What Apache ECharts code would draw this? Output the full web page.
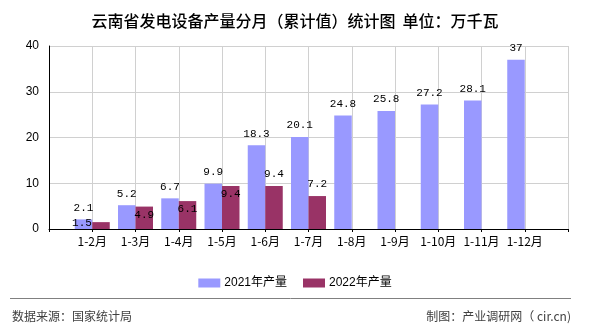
<!DOCTYPE html>
<html>
<head>
<meta charset="utf-8">
<script src="https://cdn.jsdelivr.net/npm/echarts@6/dist/echarts.min.js"></script>
<style>
  html, body { margin: 0; padding: 0; background: #fff; }
  #chart { width: 590px; height: 330px; }
</style>
</head>
<body>
<div id="chart"></div>
<script>
// Monthly cumulative output, 10k kW
const months = ['1-2月', '1-3月', '1-4月', '1-5月', '1-6月', '1-7月', '1-8月', '1-9月', '1-10月', '1-11月', '1-12月'];
const output2021 = [2.1, 5.2, 6.7, 9.9, 18.3, 20.1, 24.8, 25.8, 27.2, 28.1, 37];
const output2022 = [1.5, 4.9, 6.1, 9.4, 9.4, 7.2];
const seriesNames = ['2021年产量', '2022年产量'];
const yTicks = [0, 10, 20, 30, 40];

const titleText = '云南省发电设备产量分月（累计值）统计图  单位：万千瓦';
const sourceText = '数据来源：国家统计局';
const makerText = '制图：产业调研网（ cir.cn)';

// Where each 2022 value label sits relative to its bar
const labelPlace2022 = ['left', 'inside', 'inside', 'inside', 'top', 'top'];

const monoFont = '"Liberation Mono", "DejaVu Sans Mono", monospace';
const cjkFont = '"Noto Sans CJK SC", "Liberation Sans", sans-serif';

// Axis points: one empty slot at each end so months sit on ticks
const cats = [''].concat(months, ['']);
const pad = arr => ['-'].concat(arr, new Array(cats.length - 1 - arr.length).fill('-'));

function label2022(place) {
  const base = { show: true, color: '#000', fontFamily: monoFont, fontSize: 11 };
  if (place === 'inside') return Object.assign(base, { position: 'insideTop', distance: 3 });
  if (place === 'left') return Object.assign(base, { position: 'insideTop', distance: 0, offset: [-19, -5] });
  return Object.assign(base, { position: 'top', distance: 6 });
}

const data2022 = pad(output2022).map((v, i) => {
  if (v === '-') return v;
  return { value: v, label: label2022(labelPlace2022[i - 1]) };
});

const chart = echarts.init(document.getElementById('chart'), null, { renderer: 'canvas' });
chart.setOption({
  animation: false,
  backgroundColor: '#fff',
  title: {
    text: titleText,
    left: 'center',
    top: 8,
    textStyle: { fontFamily: cjkFont, fontSize: 16, fontWeight: 500, color: '#000' }
  },
  legend: {
    data: seriesNames,
    left: 'center',
    top: 272,
    itemWidth: 22,
    itemHeight: 9,
    itemGap: 16,
    icon: 'rect',
    textStyle: { fontFamily: '"Liberation Sans", "Noto Sans CJK SC", sans-serif', fontSize: 12, color: '#000', padding: [0, 0, 0, -1] }
  },
  grid: { left: 49, right: 22, top: 46, bottom: 101 },
  xAxis: {
    type: 'category',
    data: cats,
    boundaryGap: false,
    axisLine: { lineStyle: { color: '#000', width: 1 } },
    axisTick: { show: true, interval: 0, length: 3, lineStyle: { color: '#000' } },
    axisLabel: { interval: 0, color: '#000', fontFamily: cjkFont, fontSize: 12, margin: 6 },
    splitLine: { show: true, interval: 0, lineStyle: { color: '#d0d0d0', width: 1 } }
  },
  yAxis: {
    type: 'value',
    min: yTicks[0],
    max: yTicks[yTicks.length - 1],
    interval: 10,
    axisLine: { show: true, lineStyle: { color: '#000', width: 1 } },
    axisTick: { show: false },
    axisLabel: { color: '#000', fontFamily: '"Liberation Sans", sans-serif', fontSize: 12, margin: 10 },
    splitLine: { show: true, lineStyle: { color: '#d0d0d0', width: 1 } }
  },
  series: [
    {
      name: seriesNames[0],
      type: 'bar',
      data: pad(output2021),
      barWidth: 17.5,
      barGap: '0%',
      itemStyle: { color: '#9999ff' },
      label: { show: true, position: 'top', distance: 6, color: '#000', fontFamily: monoFont, fontSize: 11 }
    },
    {
      name: seriesNames[1],
      type: 'bar',
      data: data2022,
      barWidth: 17.5,
      barGap: '0%',
      itemStyle: { color: '#993366' }
    }
  ],
  graphic: [
    {
      type: 'line',
      shape: { x1: 10, y1: 298.5, x2: 571, y2: 298.5 },
      style: { stroke: '#808080', lineWidth: 1 }
    },
    {
      type: 'text',
      left: 12,
      top: 310,
      style: { text: sourceText, fill: '#404040', font: '12px ' + cjkFont }
    },
    {
      type: 'text',
      right: 19,
      top: 310,
      style: { text: makerText, fill: '#404040', font: '12px ' + cjkFont }
    }
  ]
});
</script>
</body>
</html>
